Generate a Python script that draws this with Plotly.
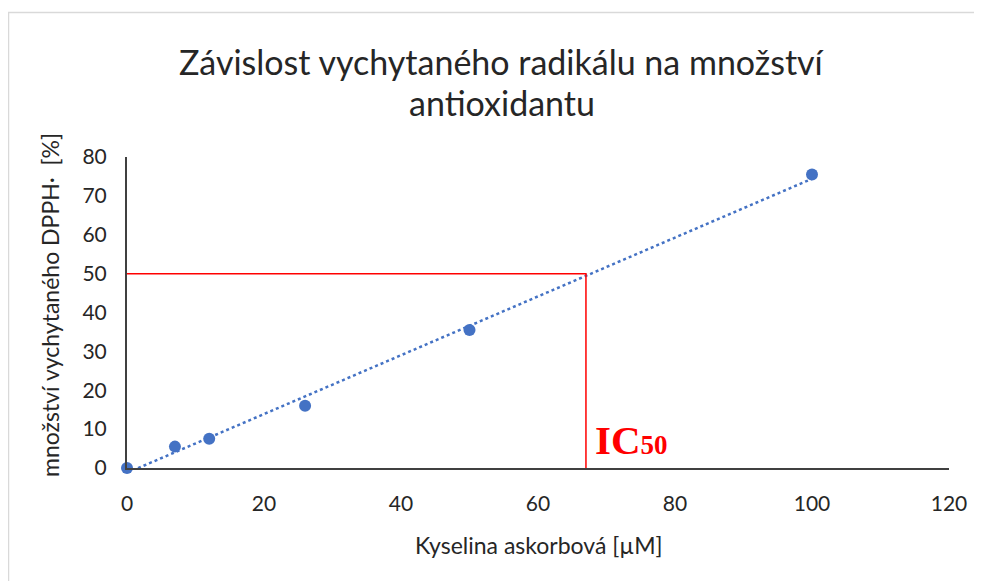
import numpy as np
import plotly.graph_objects as go

# Data
concentration = [0, 7, 12, 26, 50, 100]          # Kyselina askorbová [µM]
scavenged = [0, 5.5, 7.5, 16, 35.5, 75.5]         # množství vychytaného DPPH· [%]
ic50_level = 50
ic50_x = 67
x_ticks = [0, 20, 40, 60, 80, 100, 120]
y_ticks = [0, 10, 20, 30, 40, 50, 60, 70, 80]

title_lines = ["Závislost vychytaného radikálu na množství", "antioxidantu"]
x_title = "Kyselina askorbová [µM]"
y_title = "množství vychytaného DPPH·  [%]"

slope, intercept = np.polyfit(concentration, scavenged, 1)
trend_x = [min(concentration), max(concentration)]
trend_y = [slope * v + intercept for v in trend_x]

blue = "#4472C4"
red = "#FF0000"
axis_col = "#404040"
txt_col = "#262626"
font_main = "Lato, 'Open Sans', sans-serif"

fig = go.Figure()
fig.add_trace(go.Scatter(x=trend_x, y=trend_y, mode="lines",
                         line=dict(color=blue, width=2.5, dash="dot"),
                         hoverinfo="skip", showlegend=False))
fig.add_trace(go.Scatter(x=[0, ic50_x, ic50_x], y=[ic50_level, ic50_level, 0],
                         mode="lines", line=dict(color=red, width=1.5),
                         hoverinfo="skip", showlegend=False, cliponaxis=False))
fig.add_trace(go.Scatter(x=concentration, y=scavenged, mode="markers",
                         marker=dict(color=blue, size=12),
                         showlegend=False, cliponaxis=False))

# page has an 8px body margin; figure coordinates below are page coords minus 8
W, H = 982, 581
ml, mt = 119, 149
pr, pb = 941, 460
mr, mb = W - pr, H - pb
pw, ph = pr - ml, pb - mt

def px(x):
    return (x - ml) / pw

def py(y):
    return (pb - y) / ph

shapes = [
    dict(type="line", xref="paper", yref="paper", x0=px(0), x1=px(982), y0=py(4.5), y1=py(4.5),
         line=dict(color="#D9D9D9", width=1.5)),
    dict(type="line", xref="paper", yref="paper", x0=px(0.5), x1=px(0.5), y0=py(4), y1=py(600),
         line=dict(color="#D9D9D9", width=1.5)),
]

annotations = [
    dict(x=px(494), y=py(54), xref="paper", yref="paper", xanchor="center", yanchor="middle",
         showarrow=False, text=title_lines[0], font=dict(family=font_main, size=34, color=txt_col)),
    dict(x=px(494), y=py(95), xref="paper", yref="paper", xanchor="center", yanchor="middle",
         showarrow=False, text=title_lines[1], font=dict(family=font_main, size=34, color=txt_col)),
    dict(x=px(531), y=py(537), xref="paper", yref="paper", xanchor="center", yanchor="middle",
         showarrow=False, text=x_title, font=dict(family=font_main, size=23, color=txt_col)),
    dict(x=px(42), y=py(297), xref="paper", yref="paper", xanchor="center", yanchor="middle",
         showarrow=False, textangle=-90, text=y_title, font=dict(family=font_main, size=23, color=txt_col)),
    dict(x=ic50_x, y=0, xref="x", yref="y", xanchor="left", yanchor="bottom",
         xshift=7, yshift=3, showarrow=False,
         text="<b>IC</b><b><span style='font-size:27px'>50</span></b>",
         font=dict(family="'Liberation Serif', 'Times New Roman', serif", size=41, color=red)),
]

fig.update_layout(
    width=W, height=H,
    margin=dict(l=ml, r=mr, t=mt, b=mb),
    paper_bgcolor="white", plot_bgcolor="white",
    font=dict(family=font_main, color=txt_col, size=20),
    xaxis=dict(range=[0, 120], tickvals=x_ticks, showgrid=False, zeroline=False,
               showline=True, linecolor=axis_col, linewidth=2, ticks="",
               ticklabelstandoff=16,
               tickfont=dict(size=21, color=txt_col)),
    yaxis=dict(range=[0, 80], tickvals=y_ticks, showgrid=False, zeroline=False,
               showline=True, linecolor=axis_col, linewidth=2, ticks="",
               ticklabelstandoff=14,
               tickfont=dict(size=21, color=txt_col)),
    shapes=shapes,
    annotations=annotations,
)

fig.write_html("out.html")
